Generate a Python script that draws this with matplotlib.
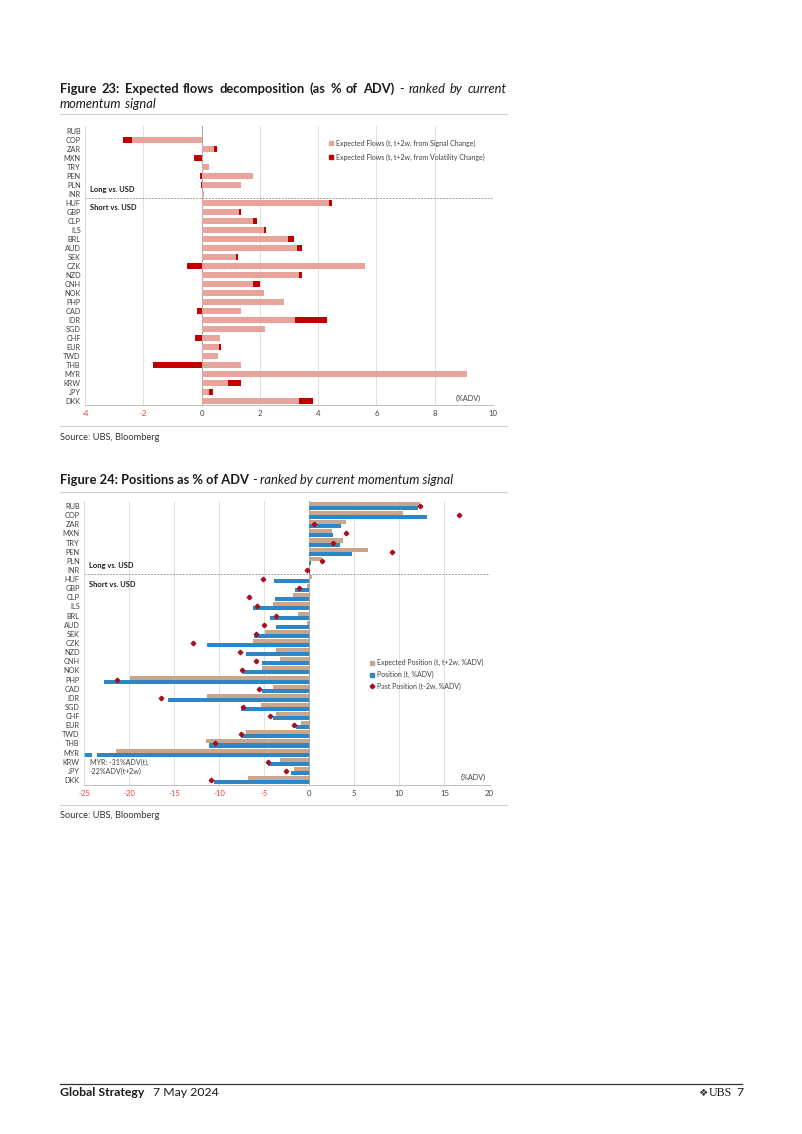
import numpy as np
import matplotlib.pyplot as plt
from matplotlib.lines import Line2D

# ---- data ----
ccy = ["RUB", "COP", "ZAR", "MXN", "TRY", "PEN", "PLN", "INR",
       "HUF", "GBP", "CLP", "ILS", "BRL", "AUD", "SEK", "CZK", "NZD",
       "CNH", "NOK", "PHP", "CAD", "IDR", "SGD", "CHF", "EUR", "TWD",
       "THB", "MYR", "KRW", "JPY", "DKK"]

# Figure 23: expected flows (%ADV)
flow_signal = [0.0, -2.38, 0.43, 0.05, 0.27, 1.77, 1.35, 0.08,
               4.38, 1.29, 1.75, 2.14, 2.96, 3.28, 1.17, 5.60, 3.35,
               1.76, 2.14, 2.83, 1.35, 3.22, 2.18, 0.63, 0.59, 0.57,
               1.36, 9.10, 0.90, 0.25, 3.34]
flow_vol = [0.0, -0.30, 0.11, -0.25, 0.0, -0.05, -0.03, 0.0,
            0.08, 0.07, 0.16, 0.08, 0.22, 0.16, 0.09, -0.50, 0.09,
            0.24, 0.0, 0.0, -0.14, 1.10, 0.0, -0.23, 0.07, 0.0,
            -1.68, 0.0, 0.46, 0.15, 0.48]

# Figure 24: positions (%ADV)
pos_expected = [12.24, 10.4, 4.1, 2.54, 3.7, 6.5, 1.4, 0.1,
                0.3, -0.26, -1.84, -4.04, -1.25, -0.22, -4.96, -6.29, -3.64,
                -3.24, -5.3, -19.93, -4.08, -11.4, -5.37, -3.68, -0.96, -6.98,
                -11.47, -21.5, -3.24, -1.65, -6.84]
pos_now = [12.1, 13.1, 3.57, 2.68, 3.4, 4.78, 0.18, 0.1,
           -3.93, -1.6, -3.75, -6.25, -4.4, -3.64, -6.1, -11.36, -7.02,
           -5.22, -7.35, -22.76, -5.3, -15.7, -7.54, -4.08, -1.5, -7.57,
           -11.1, -31.0, -4.6, -2.06, -10.6]
pos_past = [12.25, 16.6, 0.5, 4.08, 2.65, 9.15, 1.36, -0.3,
            -5.15, -1.14, -6.7, -5.8, -3.68, -5.0, -5.88, -12.94, -7.72,
            -5.92, -7.5, -21.3, -5.6, -16.5, -7.35, -4.37, -1.69, -7.57,
            -10.5, np.nan, -4.6, -2.6, -10.9]

flow_ticks = [-4, -2, 0, 2, 4, 6, 8, 10]
pos_ticks = [-25, -20, -15, -10, -5, 0, 5, 10, 15, 20]

# ---- style ----
plt.rcParams['font.family'] = ['Lato', 'DejaVu Sans']
ink = "#1a1a1a"
grey_txt = "#404040"
neg_red = "#F03C3C"
light_red = "#E8A39B"
dark_red = "#C00000"
tan = "#C9A58C"
blue = "#2F86C6"
marker_red = "#A50F1E"
grid_c = "#DADADA"
sep_c = "#D0D0D0"
title_size = 9.3

W, H = 802, 1134
fig = plt.figure(figsize=(W / 100, H / 100), dpi=100)
renderer = fig.canvas.get_renderer()


def add_axes_px(x0, y0, x1, y1):
    return fig.add_axes([x0 / W, 1 - y1 / H, (x1 - x0) / W, (y1 - y0) / H])


def hline_px(y, x0, x1, color=sep_c, lw=0.8):
    fig.add_artist(Line2D([x0 / W, x1 / W], [1 - y / H, 1 - y / H],
                          color=color, lw=lw, transform=fig.transFigure))


def text_run(words, x0, y, size, x1=None, color=ink):
    # place words one after another; justify to x1 if given
    arts = []
    for s, st in words:
        kw = dict(fontsize=size, color=color, va="center", ha="left")
        if st == "b":
            kw["fontweight"] = "bold"
        if st == "i":
            kw["fontstyle"] = "italic"
        arts.append(fig.text(x0 / W, 1 - y / H, s, **kw))
    widths = [a.get_window_extent(renderer).width for a in arts]
    if x1 is None or len(words) < 2:
        gap = size * 100 / 72 * 0.24
    else:
        gap = (x1 - x0 - sum(widths)) / (len(words) - 1)
    x = x0
    for a, w in zip(arts, widths):
        a.set_x(x / W)
        x += w + gap
    return x


def style_axes(ax, xlim, ticks, pad_x):
    n = len(ccy)
    ax.set_xlim(*xlim)
    ax.set_ylim(n - 0.5, -0.5)
    ax.set_xticks(ticks)
    ax.set_xticklabels([f"{t:g}" for t in ticks])
    for lab, t in zip(ax.get_xticklabels(), ticks):
        lab.set_color(neg_red if t < 0 else grey_txt)
    ax.set_yticks(np.arange(n))
    ax.set_yticklabels(ccy, color=grey_txt)
    ax.tick_params(axis="y", length=0, labelsize=5.3, pad=3)
    ax.tick_params(axis="x", length=0, labelsize=5.6, pad=pad_x)
    ax.xaxis.grid(True, color=grid_c, lw=0.6)
    ax.set_axisbelow(True)
    for s in ("top", "right"):
        ax.spines[s].set_visible(False)
    ax.spines["left"].set_color(grid_c)
    ax.spines["left"].set_linewidth(0.6)
    ax.spines["bottom"].set_color("#BFBFBF")
    ax.spines["bottom"].set_linewidth(0.7)
    ax.axvline(0, color="#A6A6A6", lw=0.7, zorder=1)
    # split between long and short groups (after INR)
    split = ccy.index("INR") + 0.5
    ax.axhline(split, color="#8C8C8C", lw=0.6, ls=(0, (2.2, 1.6)), zorder=1)


def legend_px(ax, entries, x_frac, y_fracs, txt_dx):
    for (label, color, mk), yf in zip(entries, y_fracs):
        ax.plot([x_frac], [yf], marker=mk, ms=2.8 if mk == "s" else 2.4,
                color=color, ls="none", transform=ax.transAxes, clip_on=False)
        ax.text(x_frac + txt_dx, yf, label, transform=ax.transAxes,
                fontsize=5.05, color=grey_txt, va="center", ha="left")


y = np.arange(len(ccy))

# ================= Figure 23 =================
text_run([("Figure", "b"), ("23:", "b"), ("Expected", "b"), ("flows", "b"),
          ("decomposition", "b"), ("(as", "b"), ("%", "b"), ("of", "b"),
          ("ADV)", "b"), ("-", "r"), ("ranked", "i"), ("by", "i"),
          ("current", "i")], 60, 89, title_size, x1=507)
text_run([("momentum", "i"), ("signal", "i")], 60, 104, title_size)
hline_px(114, 60, 507)

ax1 = add_axes_px(85, 126.5, 493, 405.5)
sig = np.array(flow_signal)
vol = np.array(flow_vol)
ax1.barh(y, sig, height=0.74, color=light_red, zorder=2)
vol_left = np.where(np.sign(vol) == np.sign(sig), sig, 0.0)
ax1.barh(y, vol, left=vol_left, height=0.74, color=dark_red, zorder=2)
style_axes(ax1, (-4, 10), flow_ticks, 3.2)

ax1.text(0.012, 6.45, "Long vs. USD", fontsize=5.4, fontweight="bold",
         color=ink, transform=ax1.get_yaxis_transform(), va="center")
ax1.text(0.012, 8.45, "Short vs. USD", fontsize=5.4, fontweight="bold",
         color=ink, transform=ax1.get_yaxis_transform(), va="center")
legend_px(ax1, [("Expected Flows (t, t+2w, from Signal Change)", light_red, "s"),
                ("Expected Flows (t, t+2w, from Volatility Change)", dark_red, "s")],
          0.603, [0.941, 0.891], 0.012)
ax1.text(0.97, 0.024, "(%ADV)", transform=ax1.transAxes, fontsize=5.2,
         color=grey_txt, ha="right", va="center")

hline_px(426, 60, 507)
fig.text(60 / W, 1 - 437.5 / H, "Source: UBS, Bloomberg", fontsize=6.7,
         color="#333333", va="center")

# ================= Figure 24 =================
text_run([("Figure 24: Positions as % of ADV", "b"), ("-", "r"),
          ("ranked by current momentum signal", "i")], 60, 480, title_size)
hline_px(492, 60, 507)

ax2 = add_axes_px(84, 501.4, 489.5, 784.6)
style_axes(ax2, (-25, 20), pos_ticks, 4.2)
bh = 0.44
ax2.barh(y - bh / 2, pos_expected, height=bh, color=tan, zorder=2)
ax2.barh(y + bh / 2, pos_now, height=bh, color=blue, zorder=2)
ax2.plot(pos_past, y, ls="none", marker="D", ms=2.3, color=marker_red, zorder=4)

# axis break on the MYR position bar (value beyond the axis)
i_myr = ccy.index("MYR")
brk = ax2.get_xlim()[0] + 0.9
ax2.barh(i_myr + bh / 2, 0.55, left=brk, height=bh + 0.1, color="white", zorder=3)
ax2.text(0.014, 0.062, "MYR: -31%ADV(t),\n-22%ADV(t+2w)", transform=ax2.transAxes,
         fontsize=5.1, color=grey_txt, va="center", ha="left", linespacing=1.25)

ax2.text(0.012, 6.5, "Long vs. USD", fontsize=5.4, fontweight="bold",
         color=ink, transform=ax2.get_yaxis_transform(), va="center")
ax2.text(0.012, 8.57, "Short vs. USD", fontsize=5.4, fontweight="bold",
         color=ink, transform=ax2.get_yaxis_transform(), va="center")
legend_px(ax2, [("Expected Position (t, t+2w, %ADV)", tan, "s"),
                ("Position (t, %ADV)", blue, "s"),
                ("Past Position (t-2w, %ADV)", marker_red, "D")],
          0.710, [0.4305, 0.388, 0.347], 0.012)
ax2.text(0.99, 0.025, "(%ADV)", transform=ax2.transAxes, fontsize=5.2,
         color=grey_txt, ha="right", va="center")

hline_px(805, 60, 507)
fig.text(60 / W, 1 - 816 / H, "Source: UBS, Bloomberg", fontsize=6.7,
         color="#333333", va="center")

# ================= footer =================
hline_px(1084, 60, 742, color="#333333", lw=0.9)
text_run([("Global Strategy", "b")], 60, 1093, 8.8)
fig.text(153 / W, 1 - 1093 / H, "7 May 2024", fontsize=8.8, color=ink, va="center")
fig.text(703 / W, 1 - 1093 / H, "\u2756", fontsize=7.5, color="#333333",
         va="center", ha="center", family="DejaVu Sans")
fig.text(709 / W, 1 - 1093 / H, "UBS", fontsize=8.6, color=ink, va="center",
         family="Liberation Serif")
fig.text(736 / W, 1 - 1093 / H, "7", fontsize=8.8, color=ink, va="center")

fig.savefig("out.png", dpi=100)
